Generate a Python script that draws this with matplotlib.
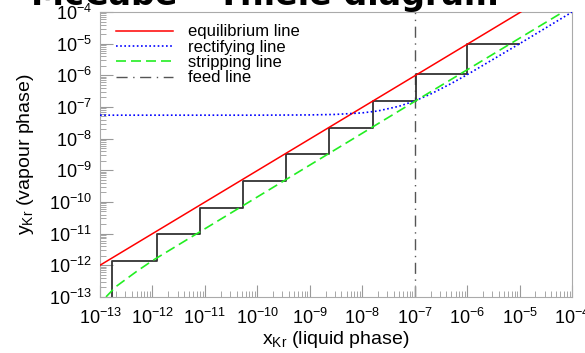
import matplotlib
matplotlib.use("Agg")
import matplotlib.pyplot as plt
from matplotlib.ticker import LogLocator, NullFormatter

plt.rcParams['font.family'] = ['Liberation Sans', 'DejaVu Sans']
plt.rcParams['mathtext.fontset'] = 'custom'
plt.rcParams['mathtext.rm'] = 'Liberation Sans'
plt.rcParams['mathtext.it'] = 'Liberation Sans:italic'

# values
eq_x = [1e-13, 1.05e-5]
eq_y = [1e-12, 1e-4]

rect_x = [1e-13, 1e-10, 1e-9, 3e-9, 1e-8, 2e-8, 5e-8, 1e-7, 2e-7, 5e-7, 1e-6, 1e-5, 1e-4]
rect_y = [5.5e-8, 5.5e-8, 5.6e-8, 5.8e-8, 6.5e-8, 7.5e-8, 1.05e-7, 1.55e-7, 2.55e-7, 5.55e-7, 1.05e-6, 1.0e-5, 1.0e-4]

strip_x = [1.3e-13, 2e-13, 5e-13, 1e-12, 1e-7, 6.7e-5]
strip_y = [1e-13, 2.1e-13, 6.4e-13, 1.4e-12, 1.5e-7, 1e-4]

feed_x = 1e-7

# staircase corners: x of each vertical, y of each horizontal
step_x = [9.5e-6, 1e-6, 1.05e-7, 1.6e-8, 2.3e-9, 3.5e-10, 5.3e-11, 8e-12, 1.2e-12, 1.7e-13]
step_y = [1e-5, 1.1e-6, 1.55e-7, 2.2e-8, 3.3e-9, 4.7e-10, 6.6e-11, 1.0e-11, 1.4e-12, 1e-13]

fig = plt.figure(figsize=(5.85, 3.53), dpi=100)
ax = fig.add_axes([0.171, 0.159, 0.807, 0.807])

sx = [step_x[0]]
sy = [step_y[0]]
for i in range(1, len(step_x)):
    sx += [step_x[i], step_x[i]]
    sy += [step_y[i - 1], step_y[i]]
ax.plot(sx, sy, color='#333333', lw=1.3, zorder=2)

ax.plot(eq_x, eq_y, color='red', lw=1.1, label='equilibrium line', zorder=3)
ax.plot(rect_x, rect_y, color='blue', lw=1.2, ls=(0, (1, 1.5)), label='rectifying line', zorder=3)
ax.plot(strip_x, strip_y, color='#22ee22', lw=1.2, ls=(0, (6, 3)), label='stripping line', zorder=3)
ax.axvline(feed_x, color='#555555', lw=1.0, ls=(0, (8, 4, 1, 4)), label='feed line', zorder=1)

ax.set_xscale('log')
ax.set_yscale('log')
ax.set_xlim(1e-13, 1e-4)
ax.set_ylim(1e-13, 1e-4)
ax.xaxis.set_major_locator(LogLocator(base=10, numticks=20))
ax.yaxis.set_major_locator(LogLocator(base=10, numticks=20))
ax.xaxis.set_minor_locator(LogLocator(base=10, subs=range(2, 10), numticks=200))
ax.yaxis.set_minor_locator(LogLocator(base=10, subs=range(2, 10), numticks=200))
ax.xaxis.set_minor_formatter(NullFormatter())
ax.yaxis.set_minor_formatter(NullFormatter())

for s in ax.spines.values():
    s.set_color('#aaaaaa')
ax.tick_params(which='both', direction='in', color='#999999', top=False, right=False, labelsize=13)
ax.tick_params(which='major', length=9)
ax.tick_params(which='minor', length=4.5)
ax.tick_params(axis='x', pad=8)
ax.tick_params(axis='y', pad=6)

ax.set_xlabel(r'x$_{\mathrm{Kr}}$ (liquid phase)', fontsize=14, labelpad=1)
ax.set_ylabel(r'y$_{\mathrm{Kr}}$ (vapour phase)', fontsize=14, labelpad=9)

ax.legend(loc='upper left', bbox_to_anchor=(0.02, 0.98), frameon=False, fontsize=12,
          handlelength=3.4, handletextpad=0.9, labelspacing=0.02, borderaxespad=0)

fig.text(0.453, 0.986, 'McCabe – Thiele diagram', ha='center', va='baseline',
         fontsize=24, fontweight='bold', family='DejaVu Sans')

fig.savefig('out.png', dpi=100)
